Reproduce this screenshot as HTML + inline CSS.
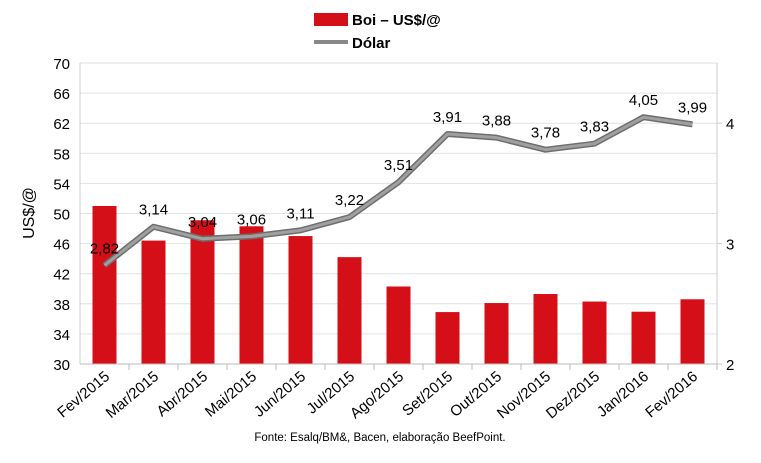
<!DOCTYPE html>
<html><head><meta charset="utf-8"><style>
body{margin:0;background:#fff;font-family:"Liberation Sans",sans-serif}
svg text{font-family:"Liberation Sans",sans-serif}
</style></head><body>
<svg width="761" height="458" viewBox="0 0 761 458">
<g id="grid"></g>
<g id="bars"></g>
<g id="axes"></g>
<g id="line"></g>
<g id="labels"></g>
<g>
  <rect x="314" y="13" width="34" height="13" fill="#d40f17"/>
  <text x="352" y="25" font-size="15" font-weight="bold">Boi – US$/@</text>
  <line x1="314" y1="42" x2="348" y2="42" stroke="#888" stroke-width="4"/>
  <text x="352" y="48" font-size="15" font-weight="bold">Dólar</text>
</g>
<text transform="translate(34,213) rotate(-90)" text-anchor="middle" font-size="16">US$/@</text>
<text x="380" y="441" text-anchor="middle" font-size="11.5">Fonte:  Esalq/BM&amp;,  Bacen,  elaboração  BeefPoint.</text>
</svg>
<script>
const categories=["Fev/2015","Mar/2015","Abr/2015","Mai/2015","Jun/2015","Jul/2015","Ago/2015","Set/2015","Out/2015","Nov/2015","Dez/2015","Jan/2016","Fev/2016"];
const boiValues=[51.0,46.4,49.1,48.3,47.0,44.2,40.3,36.9,38.1,39.3,38.3,36.95,38.6];
const dolarValues=[2.82,3.14,3.04,3.06,3.11,3.22,3.51,3.91,3.88,3.78,3.83,4.05,3.99];
const dolarLabels=["2,82","3,14","3,04","3,06","3,11","3,22","3,51","3,91","3,88","3,78","3,83","4,05","3,99"];
const leftTicks=[30,34,38,42,46,50,54,58,62,66,70];
const rightTicks=[2,3,4];
const NS="http://www.w3.org/2000/svg";
const X0=80,X1=717,Y0=364,Y1=63;
const step=(X1-X0)/categories.length;
const xc=i=>X0+step*(i+0.5);
const yL=v=>Y0-(v-30)/40*(Y0-Y1);
const yR=v=>Y0-(v-2)/2.5*(Y0-Y1);
function mk(t,a,p){const e=document.createElementNS(NS,t);for(const k in a)e.setAttribute(k,a[k]);p.appendChild(e);return e;}
const grid=document.getElementById('grid'),bars=document.getElementById('bars'),axes=document.getElementById('axes'),line=document.getElementById('line'),labels=document.getElementById('labels');
leftTicks.forEach(v=>{
  const l=mk('line',{x1:X0,x2:X1,y1:yL(v),y2:yL(v),stroke:'#e2e2e2','stroke-width':1},grid);
  
  
  const t=mk('text',{x:70,y:yL(v)+6,'text-anchor':'end','font-size':15},axes);
  t.textContent=v;
  
  
});
rightTicks.forEach(v=>{
  const t=mk('text',{x:726,y:yR(v)+6,'font-size':15},axes);
  t.textContent=v;
  
  
  const k=mk('line',{x1:X1,x2:X1+5,y1:yR(v),y2:yR(v),stroke:'#ccc'},axes);
  
  
});
mk('line',{x1:X0,x2:X0,y1:Y1,y2:Y0,stroke:'#ccc'},axes);
mk('line',{x1:X1,x2:X1,y1:Y1,y2:Y0,stroke:'#ccc'},axes);
mk('line',{x1:X0,x2:X1,y1:Y0,y2:Y0,stroke:'#bbb'},axes);
categories.forEach((c,i)=>{
  const b=mk('rect',{x:xc(i)-12,y:yL(boiValues[i]),width:24,height:Y0-yL(boiValues[i]),fill:'#d40f17'},bars);
  
  
  const tk=mk('line',{x1:X0+step*(i+1),x2:X0+step*(i+1),y1:Y0,y2:Y0+6,stroke:'#bbb'},axes);
  
  
  const t=mk('text',{transform:`translate(${xc(i)+6},${Y0+14}) rotate(-40)`,'text-anchor':'end','font-size':15},axes);
  t.textContent=c;
  
  
});
const pts=dolarValues.map((v,i)=>xc(i)+','+yR(v)).join(' ');
const p1=mk('polyline',{points:pts,fill:'none',stroke:'#6e6e6e','stroke-width':6,'stroke-linejoin':'round'},line);


const p2=mk('polyline',{points:pts,fill:'none',stroke:'#a0a0a0','stroke-width':3,'stroke-linejoin':'round'},line);


dolarValues.forEach((v,i)=>{
  const t=mk('text',{x:xc(i),y:yR(v)-12,'text-anchor':'middle','font-size':15},labels);
  t.textContent=dolarLabels[i];
  
  
});
</script>
</body></html>
